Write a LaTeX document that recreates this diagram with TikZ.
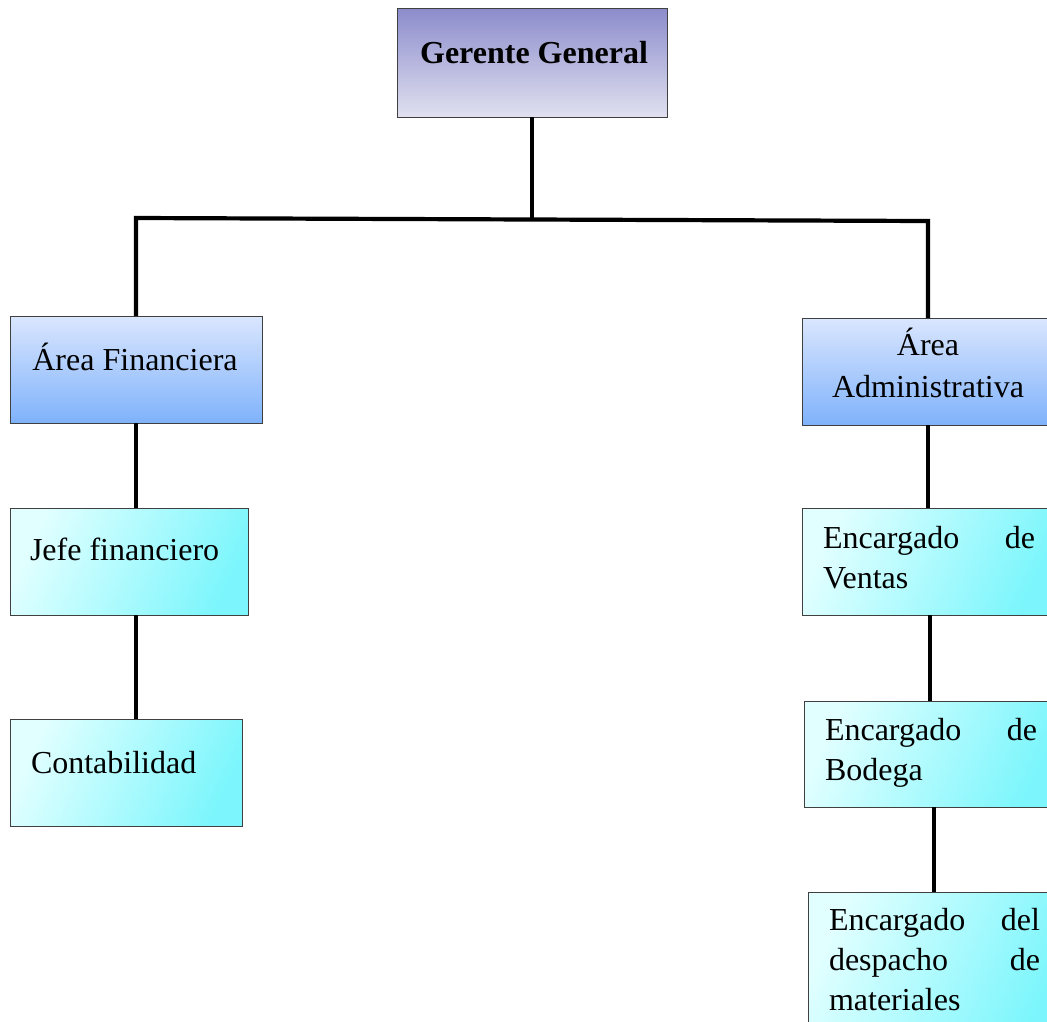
\documentclass[tikz,border=0pt]{standalone}
\usepackage{fontspec}
\setmainfont{Liberation Serif}
\definecolor{ggtop}{HTML}{8C8CCC}
\definecolor{ggbot}{HTML}{E0E0F0}
\definecolor{artop}{HTML}{DAE6FE}
\definecolor{arbot}{HTML}{7FB2FB}
\definecolor{cyL}{HTML}{E2FFFF}
\definecolor{cyR}{HTML}{7CF6FC}
\tikzset{
  box/.style={rectangle, draw=black!75, line width=0.9pt, inner sep=0pt, outer sep=0pt, anchor=north west},
  gbox/.style={box, top color=ggtop, bottom color=ggbot},
  abox/.style={box, top color=artop, bottom color=arbot},
  cbox/.style={box, left color=cyL, right color=cyR, shading angle=65},
  conn/.style={line width=4.2pt, line join=miter},
  txt/.style={font=\fontsize{32}{40}\selectfont, inner sep=0pt, outer sep=0pt},
}
\begin{document}
\begin{tikzpicture}[x=1pt,y=1pt]
\useasboundingbox (0,0) rectangle (1047,-1021);
\clip (0,0) rectangle (1047,-1021);
% boxes
\node[gbox, minimum width=270pt, minimum height=109pt] (gg) at (397,-8) {};
\node[abox, minimum width=252pt, minimum height=107pt] (af) at (10,-316) {};
\node[cbox, minimum width=238pt, minimum height=107pt] (jf) at (10,-508) {};
\node[cbox, minimum width=232pt, minimum height=107pt] (co) at (10,-719) {};
\node[abox, minimum width=252pt, minimum height=107pt] (aa) at (802,-318) {};
\node[cbox, minimum width=252pt, minimum height=107pt] (ev) at (802,-508) {};
\node[cbox, minimum width=252pt, minimum height=106pt] (eb) at (804,-701) {};
\node[cbox, minimum width=252pt, minimum height=150pt] (ed) at (808,-892) {};
% texts
\node[txt, anchor=base, font=\fontsize{32}{40}\selectfont\bfseries] (tgg) at (534,-63) {Gerente General};
\node[txt, anchor=base] (taf) at (135,-370) {Área Financiera};
\node[txt, anchor=base west] (tjf) at (30,-560) {Jefe financiero};
\node[txt, anchor=base west] (tco) at (31,-773) {Contabilidad};
\node[txt, anchor=base, align=center, font=\fontsize{32}{42}\selectfont] (taa) at (928,-397) {Área\\Administrativa};
\node[txt, anchor=base west, text width=212pt, align=left] (tev) at (823,-548) {Encargado\hfill de\\Ventas};
\node[txt, anchor=base west, text width=212pt, align=left] (teb) at (825,-740) {Encargado\hfill de\\Bodega};
\node[txt, anchor=base west, text width=211pt, align=left] (ted) at (829,-930) {Encargado\hfill del\\despacho\hfill de\\materiales};
% connectors
\coordinate (jl) at (136,-218);
\coordinate (jr) at (928,-221);
\coordinate (jm) at (532,-219.5);
\draw[conn] (gg.south) -- (jm);
\draw[conn] (af.north) -- (jl) -- (jr) -- (aa.north);
\draw[conn] (af.south) -- (af.south |- jf.north);
\draw[conn] (jf.south -| af.south) -- (co.north -| af.south);
\draw[conn] (aa.south) -- (ev.north);
\draw[conn] (eb.north |- ev.south) -- (eb.north);
\draw[conn] (ed.north |- eb.south) -- (ed.north);
\end{tikzpicture}
\end{document}
